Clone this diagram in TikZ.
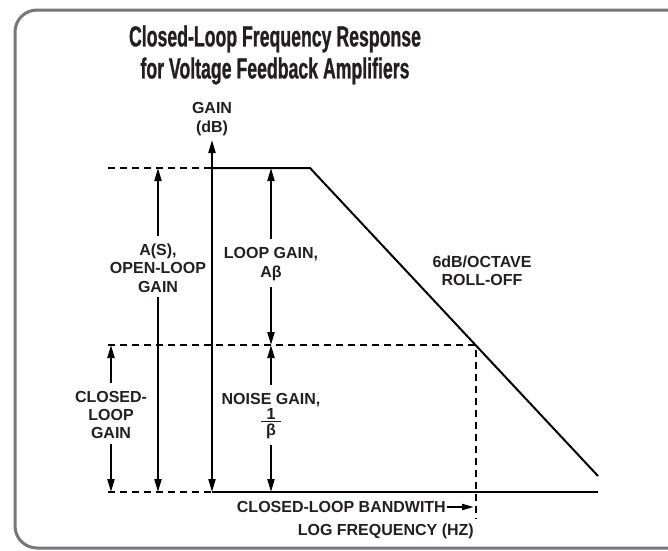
\documentclass[tikz,border=0pt]{standalone}
\usepackage{amsmath}
\usepackage{fontspec}
\setmainfont{Liberation Sans}
\newfontfamily\titlefont[FakeStretch=0.61,FakeBold=0.8]{Liberation Sans}
\usetikzlibrary{arrows.meta}
\definecolor{txt}{HTML}{231F20}
\definecolor{frame}{HTML}{76777A}
\begin{document}
\begin{tikzpicture}[x=1pt,y=-1pt,
  lbl/.style={font=\fontsize{16}{18.3}\selectfont\bfseries, text=txt, align=center, inner sep=0pt},
  ttl/.style={font=\titlefont\fontsize{29}{32}\selectfont\bfseries, text=txt, align=center, inner sep=0pt},
  curve/.style={line width=2pt, black},
  dsh/.style={line width=2pt, black, dash pattern=on 7pt off 5pt},
  dim/.style={line width=2pt, black, -{Triangle[length=13pt,width=7pt]}},
  dimb/.style={line width=2pt, black, {Triangle[length=13pt,width=7pt]}-{Triangle[length=13pt,width=7pt]}}]
\useasboundingbox (0,0) rectangle (668,550);
\begin{scope}
\clip (0,0) rectangle (668,550);
\draw[frame, line width=3pt, rounded corners=22pt] (15,10) rectangle (690,548);
\end{scope}
% title
\node[ttl] (title) at (275,55) {Closed-Loop Frequency Response\\for Voltage Feedback Amplifiers};
% key coordinates
\coordinate (lt) at (108,168);
\coordinate (axt) at (212,168);
\coordinate (brk) at (310,168);
\coordinate (lm) at (108,345);
\coordinate (bw) at (475.5,345);
\coordinate (lb) at (108,492);
\coordinate (axb) at (212,492);
\coordinate (rb) at (598,492);
\coordinate (re) at (598,476);
\coordinate (bwb) at (475.5,519);
\coordinate (axtop) at (212,140);
% curves
\draw[dsh] (lt) -- (axt);
\draw[curve] (axt) -- (brk) -- (re);
\draw[dsh] (lm) -- (bw) -- (bwb);
\draw[dsh] (lb) -- (axb);
\draw[curve] (axb) -- (rb);
% y axis
\draw[dimb] (axb) -- (axtop);
\node[lbl] (gain) at (212,119) {GAIN\\(dB)};
% A(S)
\node[lbl] (as) at (158,268) {A(S),\\OPEN-LOOP\\GAIN};
\coordinate (ast) at (158,168);
\coordinate (asb) at (158,492);
\draw[dim] ([yshift=8pt]as.north) -- (ast);
\draw[dim] ([yshift=-5pt]as.south) -- (asb);
% loop gain
\node[lbl] (lg) at (271,264) {LOOP GAIN,\\Aβ};
\coordinate (lgt) at (271,168);
\coordinate (lgb) at (271,345);
\draw[dim] ([yshift=8pt]lg.north) -- (lgt);
\draw[dim] ([yshift=-6pt]lg.south) -- (lgb);
% closed-loop gain
\node[lbl] (clg) at (111,415) {CLOSED-\\LOOP\\GAIN};
\coordinate (clgt) at (111,345);
\coordinate (clgb) at (111,492);
\draw[dim] ([yshift=8pt]clg.north) -- (clgt);
\draw[dim] ([yshift=-5pt]clg.south) -- (clgb);
% noise gain
\node[lbl] (ng) at (271,416) {NOISE GAIN,\\[0pt]$\genfrac{}{}{1.5pt}{1}{\makebox[20pt]{\bfseries 1}}{\makebox[20pt]{\bfseries β}}$};
\coordinate (ngt) at (271,345);
\coordinate (ngb) at (271,492);
\draw[dim] ([yshift=8pt]ng.north) -- (ngt);
\draw[dim] ([yshift=-6pt]ng.south) -- (ngb);
% roll-off
\node[lbl] (ro) at (482,271) {6dB/OCTAVE\\ROLL-OFF};
% bandwidth
\node[lbl, anchor=east] (bwl) at (446,507) {CLOSED-LOOP BANDWITH};
\coordinate (bwt) at (474,507);
\draw[line width=2pt, -{Triangle[length=12pt,width=6pt]}] (bwl.east) ++(1pt,0) -- (bwt);
\node[lbl, anchor=east] (lf) at (474,531) {LOG FREQUENCY (HZ)};
\end{tikzpicture}
\end{document}
